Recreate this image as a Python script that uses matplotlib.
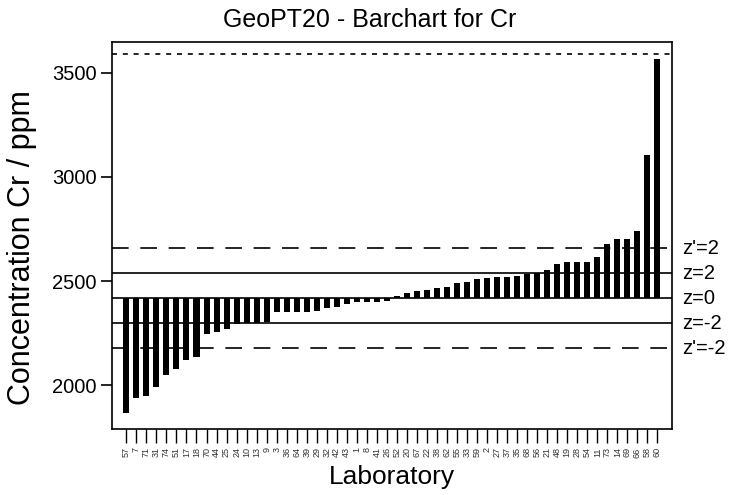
import matplotlib
matplotlib.use("Agg")
import matplotlib.pyplot as plt
import numpy as np

plt.rcParams['font.family'] = ['Liberation Sans', 'DejaVu Sans']

# laboratory codes, sorted by reported value
labs = ['57', '7', '71', '31', '74', '51', '17', '18', '70', '44',
        '25', '24', '10', '13', '9', '3', '36', '64', '39', '29',
        '32', '42', '43', '1', '8', '41', '26', '52', '20', '67',
        '22', '38', '62', '55', '33', '59', '2', '27', '37', '35',
        '68', '56', '21', '48', '19', '28', '54', '11', '73', '14',
        '69', '66', '58', '60']
# Cr concentration in ppm
values = [1866, 1938, 1949, 1991, 2050, 2078, 2120, 2135, 2246, 2254,
          2270, 2293, 2297, 2299, 2302, 2350, 2350, 2350, 2353, 2358,
          2369, 2374, 2390, 2398, 2398, 2398, 2404, 2428, 2444, 2454,
          2457, 2468, 2473, 2489, 2494, 2508, 2514, 2518, 2521, 2524,
          2532, 2540, 2553, 2580, 2590, 2590, 2590, 2617, 2678, 2700,
          2700, 2740, 3104, 3565]

assigned = 2417      # z = 0
sigma = 60           # target standard deviation
upper_limit = 3590   # dotted line at top

fig = plt.figure(figsize=(7.35, 4.95), dpi=100)
ax = fig.add_axes([0.152, 0.1327, 0.762, 0.7831])

x = np.arange(len(values))
heights = np.array(values) - assigned
ax.bar(x, heights, bottom=assigned, width=0.6, color='black', zorder=3)

# z-score lines
ax.axhline(assigned, color='black', lw=1.2)
ax.axhline(assigned + 2 * sigma, color='black', lw=1.2)
ax.axhline(assigned - 2 * sigma, color='black', lw=1.2)
ax.axhline(assigned + 4 * sigma, color='black', lw=1.2, dashes=(10, 7))
ax.axhline(assigned - 4 * sigma, color='black', lw=1.2, dashes=(10, 7))
ax.axhline(upper_limit, color='black', lw=1.2, dashes=(3, 3.5))

zlabels = [("z'=2", assigned + 4 * sigma), ("z=2", assigned + 2 * sigma),
           ("z=0", assigned), ("z=-2", assigned - 2 * sigma),
           ("z'=-2", assigned - 4 * sigma)]
for txt, yv in zlabels:
    ax.text(1.018, yv, txt, transform=ax.get_yaxis_transform(),
            ha='left', va='center', fontsize=14.5)

ax.set_xlim(-1.46, 54.43)
ax.set_ylim(1789, 3649)
ax.set_yticks([2000, 2500, 3000, 3500])
ax.tick_params(axis='y', labelsize=14.5, length=8, width=1.2, direction='out', pad=3)
ax.set_xticks(x)
ax.set_xticklabels(labs, rotation=90, fontsize=6.5, color='#333333')
ax.tick_params(axis='x', length=10, width=1.0, direction='out', pad=3)
for s in ax.spines.values():
    s.set_linewidth(1.2)

fig.text(370 / 735, 1 - 20 / 495, 'GeoPT20 - Barchart for Cr', ha='center', va='center', fontsize=18)
fig.text(392 / 735, 1 - 477 / 495, 'Laboratory', ha='center', va='center', fontsize=19)
fig.text(22 / 735, 1 - 248 / 495, 'Concentration Cr / ppm', ha='center', va='center',
         rotation=90, fontsize=22)

fig.savefig('out.png', dpi=100)
